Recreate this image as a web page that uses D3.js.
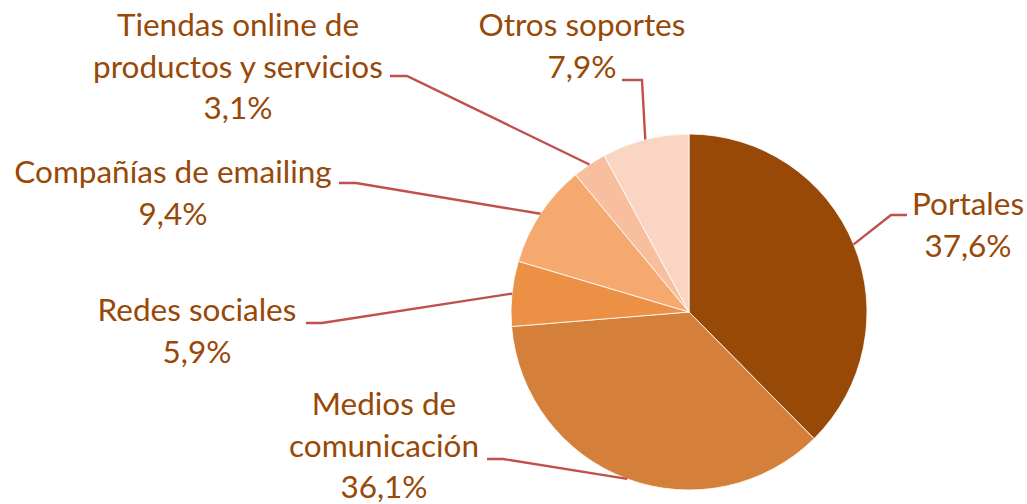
<!DOCTYPE html>
<html>
<head>
<meta charset="utf-8">
<script src="https://cdn.jsdelivr.net/npm/d3@7"></script>
<style>
  html, body { margin: 0; padding: 0; background: #fff; }
  svg { display: block; }
  .lbl { font-family: "Lato", "Open Sans", sans-serif; fill: #984807; }
</style>
</head>
<body>
<div id="chart"></div>
<script>
// data
var categories = ["Portales", "Medios de comunicación", "Redes sociales",
  "Compañías de emailing", "Tiendas online de productos y servicios", "Otros soportes"];
var shares = [37.6, 36.1, 5.9, 9.4, 3.1, 7.9];
var valueLabels = ["37,6%", "36,1%", "5,9%", "9,4%", "3,1%", "7,9%"];
var sliceColors = ["#984807", "#d4803a", "#eb9045", "#f6a96f", "#f8bf9f", "#fad5c3"];

// label layout (how the category text wraps and where the box sits)
var labelLines = [
  ["Portales"],
  ["Medios de", "comunicación"],
  ["Redes sociales"],
  ["Compañías de emailing"],
  ["Tiendas online de", "productos y servicios"],
  ["Otros soportes"]
];
var labelPos = [
  {x: 968, y: 215, elbow: [891, 215], tail: 907},
  {x: 384, y: 415, elbow: [503, 459], tail: 487},
  {x: 197, y: 321, elbow: [322, 323], tail: 306},
  {x: 173, y: 183, elbow: [356, 183], tail: 339},
  {x: 238, y: 36,  elbow: [407, 76],  tail: 390},
  {x: 582, y: 36,  elbow: [642, 80],  tail: 622}
];

var width = 1027, height = 504;
var cx = 689, cy = 312, radius = 178;
var lineGap = 41.5;

var svg = d3.select("#chart").append("svg")
    .attr("width", width)
    .attr("height", height);

var pie = d3.pie().sort(null).value(function(d) { return d; });
var arcs = pie(shares);
var arc = d3.arc().innerRadius(0).outerRadius(radius);

var g = svg.append("g").attr("transform", "translate(" + cx + "," + cy + ")");

g.selectAll("path.slice")
  .data(arcs)
  .enter().append("path")
    .attr("class", "slice")
    .attr("d", arc)
    .style("fill", function(d, i) { return sliceColors[i]; })
    .style("stroke", "#fff")
    .style("stroke-width", 0.8);

// leader lines: from arc edge (mid angle) to elbow then short horizontal
svg.selectAll("polyline.leader")
  .data(arcs)
  .enter().append("polyline")
    .attr("class", "leader")
    .attr("points", function(d, i) {
      var a = (d.startAngle + d.endAngle) / 2;
      var px = cx + radius * Math.sin(a), py = cy - radius * Math.cos(a);
      var p = labelPos[i];
      return [[px, py], p.elbow, [p.tail, p.elbow[1]]].map(function(q) { return q.join(","); }).join(" ");
    })
    .style("fill", "none")
    .style("stroke", "#c0504d")
    .style("stroke-width", 2.4);

// labels
var lbl = svg.selectAll("text.lbl")
  .data(arcs)
  .enter().append("text")
    .attr("class", "lbl")
    .attr("text-anchor", "middle")
    .style("font-size", "31.5px");

lbl.each(function(d, i) {
  var t = d3.select(this);
  var lines = labelLines[i].concat([valueLabels[i]]);
  lines.forEach(function(s, k) {
    t.append("tspan")
      .attr("x", labelPos[i].x)
      .attr("y", labelPos[i].y + k * lineGap)
      .text(s);
  });
});
</script>
</body>
</html>
